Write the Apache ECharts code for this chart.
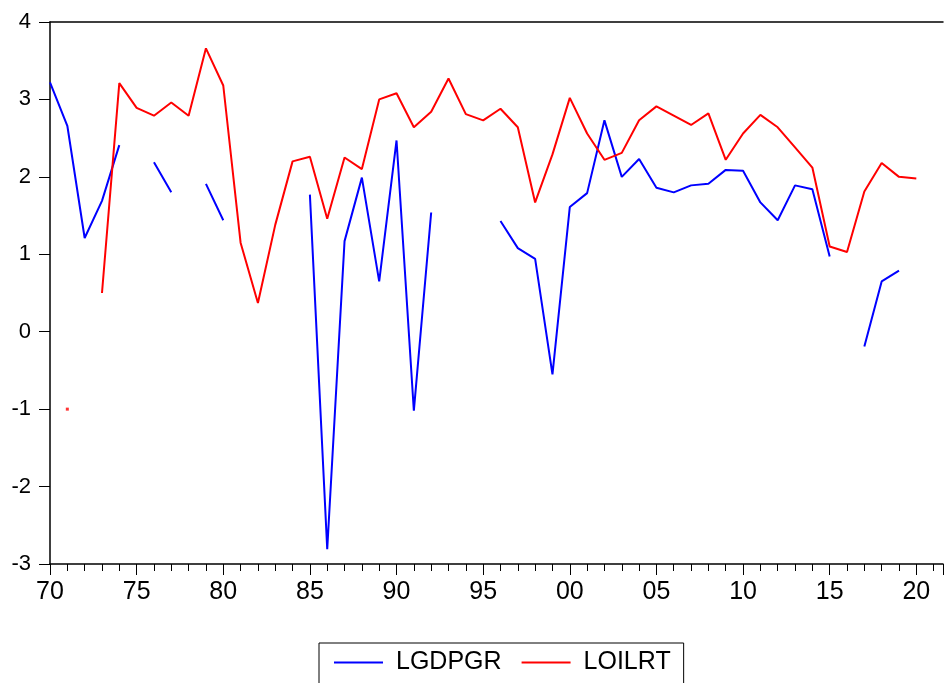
<!DOCTYPE html>
<html>
<head>
<meta charset="utf-8">
<script src="https://cdn.jsdelivr.net/npm/echarts@6/dist/echarts.min.js"></script>
<style>
html,body{margin:0;padding:0;background:#fff;}
#c{width:946px;height:683px;}
</style>
</head>
<body>
<div id="c"></div>
<script>
var years = [];
for (var y = 1970; y <= 2020; y++) years.push(y);

var LGDPGR = [3.22, 2.66, 1.21, 1.69, 2.41, null, 2.19, 1.80, null, 1.91,
  1.44, null, null, null, null, 1.77, -2.81, 1.17, 1.99, 0.65,
  2.47, -1.02, 1.54, null, null, null, 1.43, 1.08, 0.94, -0.55,
  1.61, 1.79, 2.73, 2.00, 2.23, 1.86, 1.80, 1.89, 1.91, 2.09,
  2.08, 1.67, 1.44, 1.89, 1.84, 0.97, null, -0.19, 0.65, 0.79,
  null];

var LOILRT = [null, -1.00, null, 0.50, 3.21, 2.89, 2.79, 2.96, 2.79, 3.66,
  3.18, 1.15, 0.37, 1.38, 2.20, 2.26, 1.46, 2.25, 2.10, 3.00,
  3.08, 2.64, 2.84, 3.27, 2.81, 2.73, 2.88, 2.64, 1.67, 2.29,
  3.02, 2.56, 2.22, 2.31, 2.73, 2.91, 2.79, 2.67, 2.82, 2.22,
  2.56, 2.80, 2.64, 2.38, 2.12, 1.10, 1.03, 1.81, 2.18, 2.00,
  1.98];

var yTicks = [-3, -2, -1, 0, 1, 2, 3, 4];

function pairs(arr) {
  return years.map(function (yr, i) { return [yr, arr[i]]; });
}
function isolated(arr) {
  var out = [];
  for (var i = 0; i < arr.length; i++) {
    if (arr[i] == null) continue;
    var prev = i > 0 ? arr[i - 1] : null;
    var next = i < arr.length - 1 ? arr[i + 1] : null;
    if (prev == null && next == null) out.push([years[i], arr[i]]);
  }
  return out;
}

var FONT = 'Liberation Sans, Arial, sans-serif';
var chart = echarts.init(document.getElementById('c'), null, {renderer: 'canvas'});
chart.setOption({
  animation: false,
  backgroundColor: '#ffffff',
  grid: {left: 50, right: 0, top: 22, bottom: 119, containLabel: false},
  legend: {
    data: ['LGDPGR', 'LOILRT'],
    left: 319, top: 643,
    orient: 'horizontal',
    icon: 'rect',
    itemWidth: 49, itemHeight: 2,
    itemGap: 20,
    padding: [7, 13, 12, 15],
    borderColor: '#000', borderWidth: 1,
    textStyle: {fontFamily: FONT, fontSize: 25, color: '#000', padding: [0, 0, 0, 8]}
  },
  xAxis: [
    {
      type: 'value', position: 'bottom', min: 1970, max: 2021.54, interval: 5,
      axisLine: {show: true, onZero: false, lineStyle: {color: '#000', width: 1.5}},
      axisTick: {show: true, inside: false, length: 11, lineStyle: {color: '#000', width: 1}},
      axisLabel: {
        show: true, margin: 16, fontFamily: FONT, fontSize: 25, color: '#000',
        formatter: function (v) {
          if (Math.abs(v % 5) > 1e-6) return '';
          var s = String(Math.round(v) % 100);
          return s.length < 2 ? '0' + s : s;
        }
      },
      splitLine: {show: false}
    },
    {
      type: 'value', position: 'bottom', min: 1970, max: 2021.54, interval: 1,
      axisLine: {show: false, onZero: false},
      axisTick: {show: true, inside: false, length: 7, lineStyle: {color: '#000', width: 1}},
      axisLabel: {show: false},
      splitLine: {show: false}
    },
    {
      type: 'value', position: 'top', min: 1970, max: 2021.54,
      axisLine: {show: true, onZero: false, lineStyle: {color: '#000', width: 1.5}},
      axisTick: {show: false}, axisLabel: {show: false}, splitLine: {show: false}
    }
  ],
  yAxis: {
    type: 'value', min: yTicks[0], max: yTicks[yTicks.length - 1], interval: 1,
    axisLine: {show: true, onZero: false, lineStyle: {color: '#000', width: 1.5}},
    axisTick: {show: true, inside: false, length: 11, lineStyle: {color: '#000', width: 1}},
    axisLabel: {margin: 19, fontFamily: FONT, fontSize: 22, color: '#000'},
    splitLine: {show: false}
  },
  series: [
    {
      name: 'LGDPGR', type: 'line', xAxisIndex: 0, data: pairs(LGDPGR),
      showSymbol: false, connectNulls: false,
      itemStyle: {color: '#0000ff'},
      lineStyle: {color: '#0000ff', width: 2}
    },
    {
      name: 'LOILRT', type: 'line', xAxisIndex: 0, data: pairs(LOILRT),
      showSymbol: false, connectNulls: false,
      itemStyle: {color: '#ff0000'},
      lineStyle: {color: '#ff0000', width: 2}
    },
    {
      name: 'LGDPGR_pts', type: 'scatter', xAxisIndex: 0, data: isolated(LGDPGR),
      symbol: 'rect', symbolSize: 3, itemStyle: {color: '#0000ff'}, silent: true
    },
    {
      name: 'LOILRT_pts', type: 'scatter', xAxisIndex: 0, data: isolated(LOILRT),
      symbol: 'rect', symbolSize: 3, itemStyle: {color: '#ff0000'}, silent: true
    }
  ]
});
</script>
</body>
</html>
